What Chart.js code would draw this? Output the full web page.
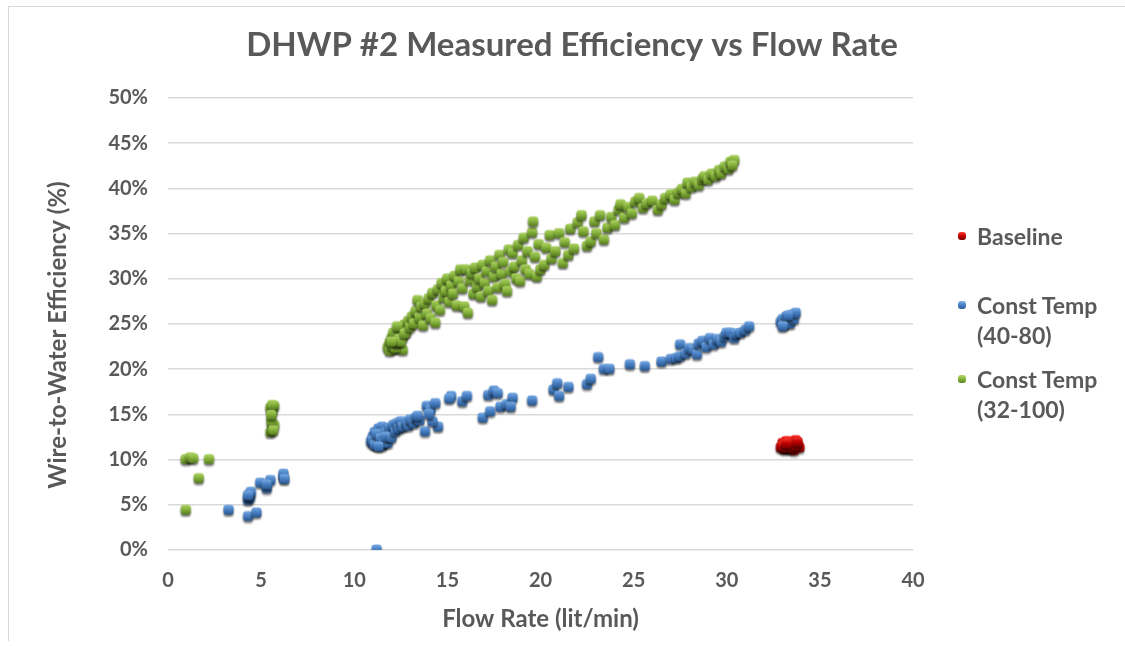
<!DOCTYPE html>
<html>
<head>
<meta charset="utf-8">
<title>DHWP #2 Measured Efficiency vs Flow Rate</title>
<script src="https://cdn.jsdelivr.net/npm/chart.js@4.4.1/dist/chart.umd.min.js"></script>
<style>
  html, body { margin: 0; padding: 0; background: #fff; }
  #wrap { position: relative; width: 1125px; height: 646px; overflow: hidden; }
  #frame { position: absolute; left: 8px; top: 6px; width: 1130px; height: 634px;
           border-left: 1px solid #d9d9d9; border-top: 1px solid #d9d9d9; }
  #chart { position: absolute; left: 0; top: 0; }
  .legend { position: absolute; left: 955px; font: bold 23px Lato, sans-serif; color: #595959; line-height: 30px; }
  .legend .item { position: absolute; left: 0; white-space: nowrap; }
  .legend .mk { position: absolute; left: 3px; top: 11px; width: 8px; height: 8px; border-radius: 3px; }
  .legend .tx { position: absolute; left: 22px; top: 0; }
</style>
</head>
<body>
<div id="wrap">
  <div id="frame"></div>
  <canvas id="chart" width="1125" height="646"></canvas>
  <div class="legend" id="legend"></div>
</div>
<script>
// flow rate (lit/min) and wire-to-water efficiency (%)
const baselineFlow = [32.9, 33.0, 33.1, 33.2, 33.3, 33.4, 33.5, 33.6, 33.7, 33.8, 33.9, 33.4, 33.6, 33.1,
                      33.0, 33.2, 33.3, 33.5, 33.7, 33.8, 33.2];
const baselineEff  = [11.3, 11.8, 11.1, 12.0, 11.5, 11.2, 11.9, 11.4, 12.1, 11.6, 11.3, 11.7, 11.0, 11.6,
                      11.4, 11.3, 11.9, 11.3, 11.5, 11.9, 11.7];

const temp4080Flow = [
  3.25, 4.3, 4.75, 4.3, 4.4, 4.35, 4.45, 4.3, 4.95, 5.3, 5.5, 5.3, 6.2, 6.2, 6.25, 11.2,
  10.9, 11.0, 11.0, 11.1, 11.2, 11.2, 11.3, 11.3, 11.4, 11.5, 11.5, 11.6, 11.7, 11.8, 11.9,
  11.0, 11.1, 11.2, 11.4, 11.6, 11.7, 11.3,
  12.0, 12.1, 12.2, 12.3, 12.4, 12.5, 12.6, 12.8, 12.9, 13.0, 13.2, 13.3, 13.5, 13.4,
  13.8, 14.5, 14.2, 13.9, 14.1, 14.35, 14.0, 15.2, 15.1, 15.8, 16.05, 16.9, 17.3, 17.2,
  17.5, 17.7, 17.85, 18.2, 18.5, 18.4, 19.55, 20.7, 20.9, 21.0, 21.5, 22.5, 22.7, 23.1,
  23.4, 23.7, 24.8, 25.6, 26.5, 27.0, 27.3, 27.5, 27.5, 27.8, 28.0, 28.2, 28.4, 28.5,
  28.7, 28.9, 29.1, 29.3, 29.5, 29.7, 29.9, 30.0, 30.2, 30.4, 30.5, 30.75, 31.0, 31.2,
  32.9, 33.0, 33.1, 33.2, 33.3, 33.4, 33.5, 33.6, 33.7, 33.3, 33.0
];
const temp4080Eff = [
  4.4, 3.7, 4.1, 5.5, 5.8, 6.1, 6.4, 6.0, 7.4, 6.8, 7.7, 7.2, 8.0, 8.4, 7.8, 0.0,
  12.0, 12.5, 11.8, 13.0, 12.3, 11.6, 13.4, 12.0, 12.8, 11.5, 13.6, 12.2, 13.0, 11.8, 13.5,
  12.1, 11.6, 12.8, 12.3, 11.8, 12.5, 11.4,
  12.4, 13.8, 13.1, 14.0, 13.4, 14.2, 13.6, 14.1, 13.7, 14.4, 14.0, 14.6, 14.3, 14.8,
  13.1, 13.6, 14.2, 15.9, 15.5, 16.2, 15.0, 17.0, 16.7, 16.4, 17.0, 14.6, 15.3, 17.1,
  17.6, 17.3, 15.8, 16.1, 16.8, 15.8, 16.5, 17.7, 18.4, 17.0, 18.0, 18.3, 18.9, 21.3,
  20.0, 20.0, 20.5, 20.3, 20.8, 21.1, 21.2, 22.7, 21.4, 21.7, 22.3, 22.1, 21.6, 22.8,
  23.1, 22.4, 23.4, 22.7, 23.3, 23.0, 23.6, 24.0, 24.0, 23.4, 23.9, 24.0, 24.3, 24.7,
  25.2, 25.5, 24.9, 25.8, 25.3, 25.0, 26.0, 25.5, 26.2, 25.9, 24.7
];

const temp32100Flow = [
  0.95, 0.95, 1.2, 1.35, 1.65, 2.2,
  5.5, 5.6, 5.7, 5.55, 5.65, 5.6, 5.5, 5.7, 5.6, 5.55,
  11.8, 11.9, 12.0, 12.1, 12.2, 12.3, 12.4, 12.1, 12.5, 12.6, 12.7, 12.8, 12.9, 12.3, 12.6,
  11.9, 12.0, 12.2, 12.3, 12.4, 12.5, 12.7, 12.0,
  13.0, 13.1, 13.2, 13.3, 13.4, 13.5, 13.6, 13.7, 13.8, 13.9, 14.0, 14.1, 14.2, 14.35,
  14.4, 14.5, 14.6, 14.7, 14.8, 14.9, 15.0, 15.1, 15.2, 15.3, 15.4, 15.5, 15.6, 15.7,
  15.8, 15.9, 16.0, 16.1, 16.2, 16.3, 16.4, 16.5, 16.6, 16.7, 16.8, 16.9, 17.0, 17.1,
  17.2, 17.3, 17.4, 17.5, 17.6, 17.7, 17.8, 17.9, 18.0, 18.1, 18.2, 18.3, 18.4, 18.5,
  18.6, 18.7, 18.8, 18.9, 19.0, 19.1, 19.2, 19.3, 19.4, 19.55, 19.6, 19.7, 19.8, 19.9,
  20.0, 20.2, 20.3, 20.5, 20.6, 20.8, 21.0, 21.2, 21.3, 21.5, 21.6, 21.8, 22.0, 22.2,
  22.3, 22.5, 22.7, 22.9, 23.0, 23.2, 23.4, 23.6, 23.8, 24.0, 24.2, 24.3, 24.5, 24.7,
  24.9, 25.1, 25.3, 25.5, 25.7, 26.0, 26.3, 26.5, 26.7, 27.0, 27.2, 27.4, 27.6, 27.8,
  27.9, 28.1, 28.3, 28.5, 28.7, 28.8, 29.0, 29.2, 29.4, 29.6, 29.7, 29.9, 30.1, 30.2,
  30.4, 30.3
];
const temp32100Eff = [
  4.4, 10.0, 10.2, 10.1, 7.9, 10.0,
  13.0, 13.4, 13.8, 14.2, 13.2, 15.3, 15.7, 15.9, 16.0, 14.9,
  22.4, 22.9, 23.4, 22.2, 23.0, 23.8, 22.5, 24.0, 24.4, 23.5, 24.9, 24.1, 25.3, 24.7, 22.1,
  22.0, 22.6, 22.3, 22.9, 23.3, 23.0, 23.9, 23.0,
  24.6, 25.8, 25.0, 26.4, 27.6, 25.7, 26.9, 24.8, 27.2, 26.1, 27.8, 25.6, 28.4, 25.1,
  27.0, 28.8, 26.5, 29.5, 27.9, 28.6, 30.0, 27.4, 29.2, 28.3, 30.3, 27.0, 29.7, 31.0,
  28.9, 26.9, 31.0, 26.2, 29.8, 30.6, 28.3, 31.2, 29.1, 30.0, 28.0, 31.5, 29.5, 30.8,
  28.6, 32.0, 27.6, 30.2, 31.3, 29.0, 32.6, 30.5, 31.8, 29.4, 28.6, 33.2, 30.8, 32.8,
  31.3, 30.0, 33.7, 29.7, 32.0, 34.5, 31.0, 33.0, 30.5, 35.1, 36.3, 32.4, 30.2, 33.8,
  31.0, 31.5, 33.4, 34.8, 32.2, 33.0, 35.0, 31.7, 34.0, 32.6, 35.5, 33.3, 36.2, 37.0,
  35.2, 33.6, 34.1, 36.3, 35.0, 37.0, 34.3, 35.6, 36.8, 35.9, 37.6, 38.2, 36.7, 37.9,
  37.2, 38.5, 38.9, 37.8, 38.3, 38.6, 37.6, 38.2, 38.9, 39.3, 38.7, 39.5, 39.9, 39.4,
  40.6, 40.1, 40.7, 40.3, 41.0, 41.3, 40.9, 41.6, 41.3, 42.0, 41.6, 42.4, 42.1, 42.9,
  43.1, 42.5
];

const seriesNames  = ['Baseline', 'Const Temp\n(40-80)', 'Const Temp\n(32-100)'];
const seriesColors = [['#ff3b30', '#c00000', '#7a0000'], ['#7fb0e6', '#4a82c6', '#2c5a92'], ['#b3d66a', '#86b43c', '#5a7f22']];

const xTicks = [0, 5, 10, 15, 20, 25, 30, 35, 40];
const yTicks = [0, 5, 10, 15, 20, 25, 30, 35, 40, 45, 50];

const textColor = '#595959';
const fontFam = 'Lato, sans-serif';

function pairs(xs, ys) {
  return xs.map((x, i) => ({ x: x, y: ys[i] }));
}

// little shaded rounded square with a soft drop shadow, like the excel 3d markers
function makeMarker(cols) {
  const c = document.createElement('canvas');
  c.width = 15; c.height = 16;
  const g = c.getContext('2d');
  g.save();
  g.shadowColor = 'rgba(0,0,0,0.55)';
  g.shadowBlur = 2;
  g.shadowOffsetY = 2;
  const grad = g.createLinearGradient(0, 2, 0, 12);
  grad.addColorStop(0, cols[0]);
  grad.addColorStop(0.5, cols[1]);
  grad.addColorStop(1, cols[2]);
  g.fillStyle = grad;
  g.beginPath();
  g.roundRect(2.5, 2.5, 10, 10, 3);
  g.fill();
  g.restore();
  return c;
}

const markers = seriesColors.map(makeMarker);

const titlePlugin = {
  id: 'texts',
  afterDraw(chart) {
    const ctx = chart.ctx;
    ctx.save();
    ctx.fillStyle = textColor;
    ctx.textAlign = 'center';
    ctx.textBaseline = 'middle';
    ctx.font = 'bold 33px ' + fontFam;
    ctx.fillText('DHWP #2 Measured Efficiency vs Flow Rate', 572, 45);
    ctx.translate(58, 335);
    ctx.rotate(-Math.PI / 2);
    ctx.font = 'bold 24px ' + fontFam;
    ctx.fillText('Wire-to-Water Efficiency (%)', 0, 0);
    ctx.restore();
  }
};

const sets = [
  pairs(baselineFlow, baselineEff),
  pairs(temp4080Flow, temp4080Eff),
  pairs(temp32100Flow, temp32100Eff)
];

new Chart(document.getElementById('chart'), {
  type: 'scatter',
  data: {
    datasets: sets.map((d, i) => ({
      label: seriesNames[i],
      data: d,
      pointStyle: markers[i],
      pointRadius: 5,
      backgroundColor: seriesColors[i][1],
      borderColor: seriesColors[i][1],
      order: 2 - i
    }))
  },
  options: {
    responsive: false,
    animation: false,
    layout: { padding: { top: 98, right: 212, left: 0, bottom: 0 } },
    plugins: {
      legend: { display: false },
      tooltip: { enabled: false },
      title: { display: false }
    },
    scales: {
      x: {
        type: 'linear',
        min: 0, max: 40,
        afterFit: (s) => { s.height = 96; },
        afterBuildTicks: (s) => { s.ticks = xTicks.map(v => ({ value: v })); },
        grid: { display: false, drawTicks: false },
        border: { display: false },
        ticks: { color: textColor, font: { family: fontFam, size: 20, weight: 'bold' }, padding: 19 },
        title: {
          display: true, text: 'Flow Rate (lit/min)', color: textColor,
          font: { family: fontFam, size: 24, weight: 'bold' },
          padding: { top: 0, bottom: 12 }
        }
      },
      y: {
        type: 'linear',
        min: 0, max: 50,
        afterFit: (s) => { s.width = 168; },
        afterBuildTicks: (s) => { s.ticks = yTicks.map(v => ({ value: v })); },
        grid: { color: '#d9d9d9', lineWidth: 1.5, drawTicks: false },
        border: { display: false },
        ticks: {
          color: textColor, padding: 20,
          font: { family: fontFam, size: 20, weight: 'bold' },
          callback: (v) => v + '%'
        }
      }
    }
  },
  plugins: [titlePlugin]
});

// legend on the right, labels wrap onto two lines like the original
const legendTops = [221, 290, 364];
const leg = document.getElementById('legend');
seriesNames.forEach((name, i) => {
  const item = document.createElement('div');
  item.className = 'item';
  item.style.top = legendTops[i] + 'px';
  const mk = document.createElement('span');
  mk.className = 'mk';
  mk.style.background = 'linear-gradient(' + seriesColors[i].join(',') + ')';
  const tx = document.createElement('span');
  tx.className = 'tx';
  tx.innerHTML = name.split('\n').join('<br>');
  item.appendChild(mk);
  item.appendChild(tx);
  leg.appendChild(item);
});
</script>
</body>
</html>
